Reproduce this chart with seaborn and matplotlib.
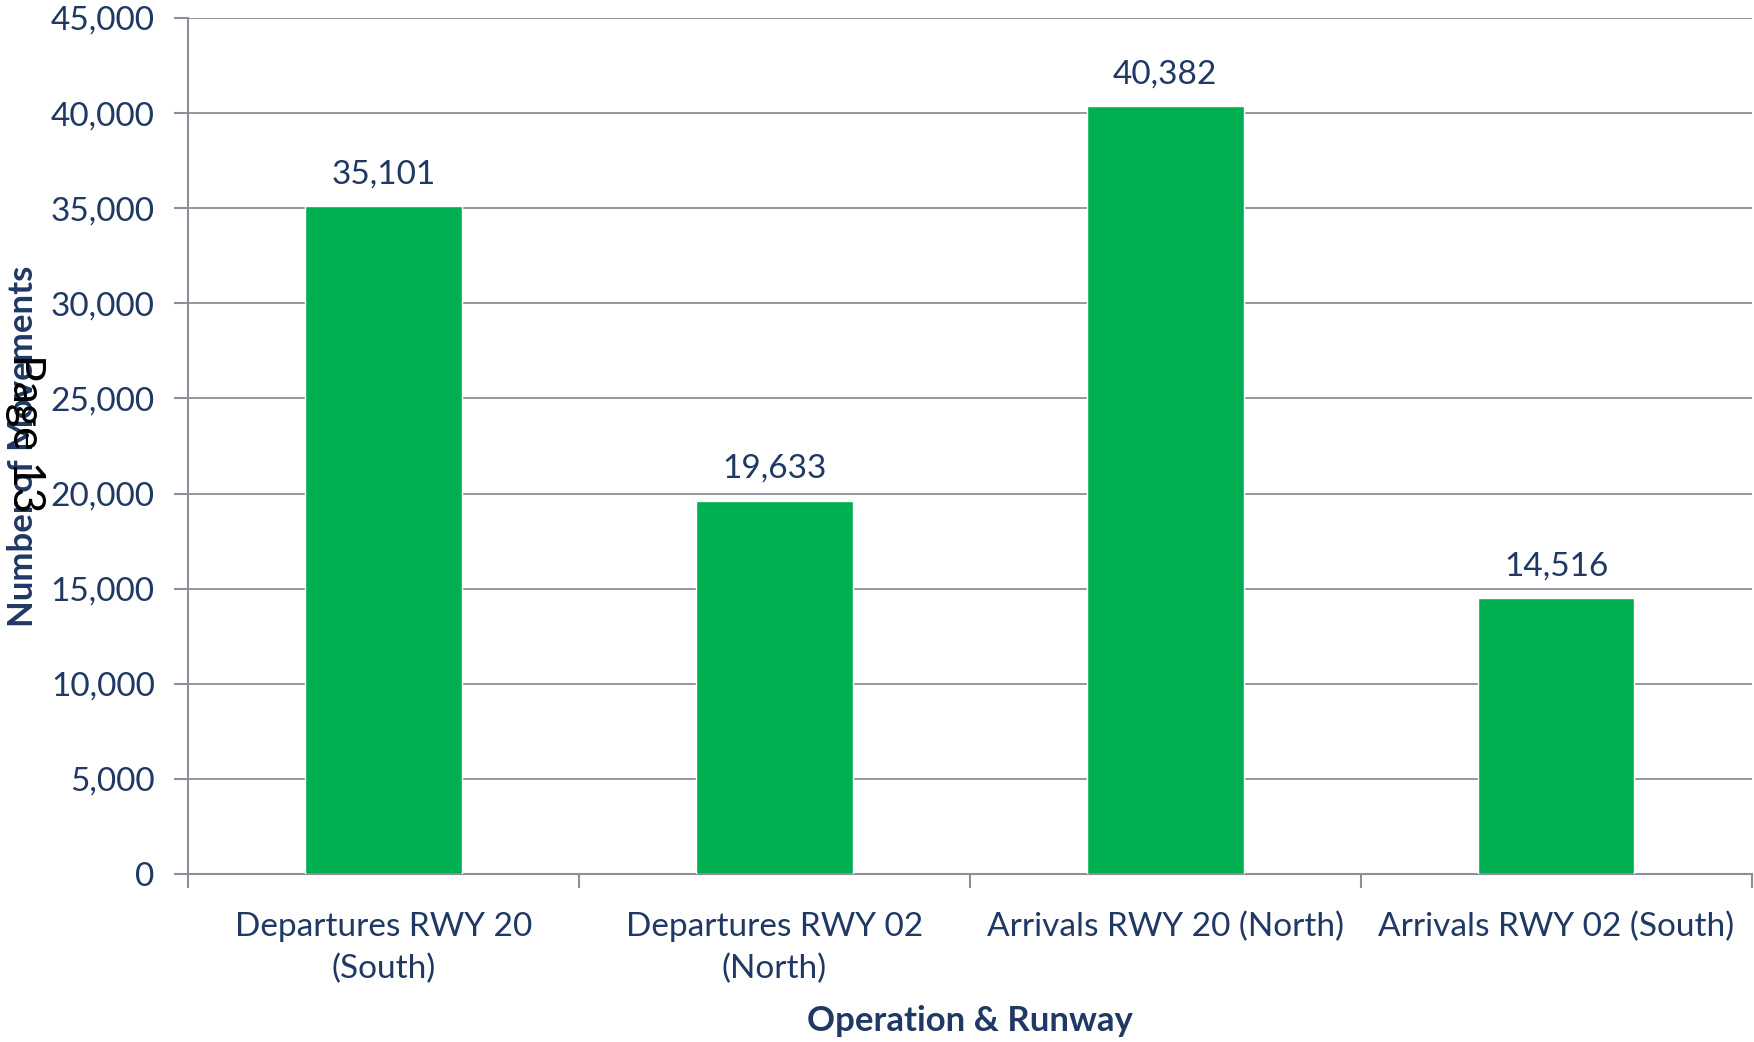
import pandas as pd
import seaborn as sns
import matplotlib.pyplot as plt
import numpy as np

# Data
operations = ['Departures RWY 20\n(South)', 'Departures RWY 02\n(North)',
              'Arrivals RWY 20 (North)', 'Arrivals RWY 02 (South)']
movements = [35101, 19633, 40382, 14516]
y_ticks = [0, 5000, 10000, 15000, 20000, 25000, 30000, 35000, 40000, 45000]

df = pd.DataFrame({'operation': operations, 'movements': movements})

navy = '#1F3864'
grid_grey = '#8E8E9A'

sns.set_theme(style='white')
plt.rcParams['font.family'] = ['Lato', 'DejaVu Sans']

fig = plt.figure(figsize=(17.54, 10.42), dpi=100)
ax = fig.add_axes([0.1072, 0.1612, 0.8915, 0.8215])

sns.barplot(data=df, x='operation', y='movements', color='#00B050',
            width=0.4, saturation=1, ax=ax, zorder=3)

ax.set_ylim(0, 45000)
ax.set_xlim(-0.5, 3.5)
ax.set_yticks(y_ticks)
ax.set_yticklabels([f'{v:,}' for v in y_ticks], fontsize=24, color=navy)
for lbl in ax.get_xticklabels():
    lbl.set_linespacing(1.5)
ax.tick_params(axis='x', which='major', length=0, labelsize=24, labelcolor=navy, pad=27)
ax.set_xticks(np.arange(-0.5, 4.0, 1.0), minor=True)
ax.tick_params(axis='x', which='minor', bottom=True, length=10, width=1.5,
               color=grid_grey, direction='out')
ax.tick_params(axis='y', left=True, length=10, width=1.5, color=grid_grey,
               direction='out', pad=14)
ax.yaxis.grid(True, color=grid_grey, linewidth=1.3, zorder=0)
ax.xaxis.grid(False)

for side in ['top', 'right']:
    ax.spines[side].set_visible(False)
for side in ['left', 'bottom']:
    ax.spines[side].set_color(grid_grey)
    ax.spines[side].set_linewidth(1.5)

for c in ax.containers:
    ax.bar_label(c, labels=[f'{v:,}' for v in movements], padding=12,
                 fontsize=24, color=navy)

ax.set_xlabel('Operation & Runway', fontsize=25, fontweight='bold', color=navy, labelpad=15)
ax.set_ylabel('Number of Movements', fontsize=25, fontweight='bold', color=navy)
ax.yaxis.set_label_coords(-0.095, 0.5)

fig.text(0.0145, 0.584, 'Page 13', rotation=-90, fontsize=32, color='black',
         ha='center', va='center')

fig.savefig('out.png', dpi=100)
